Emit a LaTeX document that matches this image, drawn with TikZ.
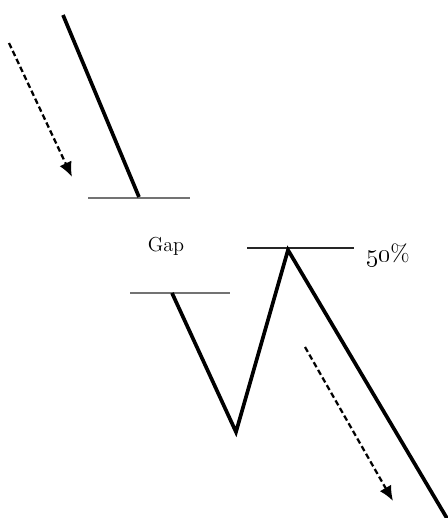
\documentclass[tikz,border=0pt]{standalone}
\usepackage{tikz}
\usetikzlibrary{positioning,arrows.meta}

\tikzset{
  price/.style={line width=2.1pt, line join=miter},
  level/.style={line width=0.6pt, draw=black!55},
  trend/.style={line width=1.3pt, dash pattern=on 3.2pt off 1.8pt, -{Latex[length=8.5pt,width=7.5pt]}},
  lbl/.style={inner sep=0pt, font=\fontsize{11.5}{13}\selectfont}
}

\begin{document}
\begin{tikzpicture}[x=0.02cm, y=-0.02cm]
    \useasboundingbox (0,0) rectangle (448,518);

    % price before the gap
    \coordinate (p0) at (63,15);
    \coordinate (p1) at (139,197);
    % price after the gap
    \coordinate (q0) at (172,293);
    \coordinate (q1) at (236,432);
    \coordinate (q2) at (288,250);
    \coordinate (q3) at (448,520);

    % levels
    \coordinate (l1a) at (88,198);   \coordinate (l1b) at (190,198);
    \coordinate (l2a) at (130,293);  \coordinate (l2b) at (230,293);
    \coordinate (l3a) at (247,248);  \coordinate (l3b) at (354,248);

    % trend arrows
    \coordinate (t1a) at (9,43);     \coordinate (t1b) at (72,177);
    \coordinate (t2a) at (305,347);  \coordinate (t2b) at (393,501);

    \draw[level] (l1a) -- (l1b);
    \draw[level] (l2a) -- (l2b);
    \draw[level, draw=black!85] (l3a) -- (l3b);

    \draw[price] (p0) -- (p1);
    \draw[price] (q0) -- (q1) -- (q2) -- (q3);

    \draw[trend] (t1a) -- (t1b);
    \draw[trend] (t2a) -- (t2b);

    \node[lbl] (gap) at (166,246) {Gap};
    \node[lbl, font=\fontsize{13.5}{15}\selectfont, right=12 of l3b, yshift=-4] (half) {\oldstylenums{50}\%};
\end{tikzpicture}
\end{document}
